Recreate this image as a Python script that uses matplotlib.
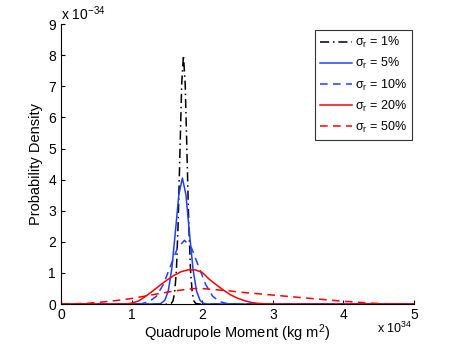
import numpy as np
import matplotlib
matplotlib.use('Agg')
import matplotlib.pyplot as plt

plt.rcParams['font.family'] = ['Liberation Sans', 'DejaVu Sans']
plt.rcParams['mathtext.fontset'] = 'custom'
plt.rcParams['mathtext.rm'] = 'Liberation Sans'
plt.rcParams['mathtext.it'] = 'Liberation Sans:italic'
plt.rcParams['mathtext.default'] = 'regular'

# Densities (x in 1e34 kg m^2, y in 1e-34)
x_1 = [0, 1.50, 1.56, 1.585, 1.61, 1.635, 1.66, 1.685, 1.71, 1.735, 1.76,
       1.785, 1.81, 1.835, 1.86, 1.885, 1.91, 1.97, 5]
y_1 = [0, 0, 0.02, 0.09, 0.35, 1.08, 2.60, 4.85, 7.06, 8.0, 7.06,
       4.85, 2.60, 1.08, 0.35, 0.09, 0.02, 0, 0]

x_5 = [0, 1.37, 1.42, 1.47, 1.52, 1.57, 1.62, 1.67, 1.72, 1.77, 1.82,
       1.87, 1.92, 1.97, 2.02, 2.07, 5]
y_5 = [0, 0.004, 0.025, 0.12, 0.42, 1.13, 2.30, 3.52, 4.05, 3.52, 2.30,
       1.13, 0.42, 0.12, 0.025, 0.004, 0]

x_10 = [0, 1.05, 1.15, 1.25, 1.35, 1.45, 1.55, 1.65, 1.75, 1.85, 1.95,
        2.05, 2.15, 2.25, 2.35, 2.45, 5]
y_10 = [0, 0.003, 0.018, 0.077, 0.25, 0.63, 1.21, 1.80, 2.05, 1.80, 1.21,
        0.63, 0.25, 0.077, 0.018, 0.003, 0]

x_20 = [0, 0.9, 1.0, 1.1, 1.2, 1.3, 1.4, 1.5, 1.6, 1.7, 1.8, 1.9, 2.0,
        2.1, 2.2, 2.3, 2.4, 2.5, 2.6, 2.7, 2.8, 2.9, 3.0, 5]
y_20 = [0, 0.0, 0.03, 0.10, 0.25, 0.42, 0.60, 0.77, 0.92, 1.04, 1.10, 1.10, 1.02,
        0.80, 0.62, 0.45, 0.30, 0.19, 0.11, 0.05, 0.02, 0.01, 0.0, 0]

x_50 = [0, 0.2, 0.4, 0.6, 0.8, 1.0, 1.2, 1.4, 1.6, 1.8, 1.9, 2.0, 2.2, 2.4,
        2.6, 2.8, 3.0, 3.2, 3.4, 3.6, 3.8, 4.0, 4.2, 4.4, 4.6, 4.8, 5.0]
y_50 = [0, 0.01, 0.03, 0.07, 0.12, 0.18, 0.26, 0.34, 0.42, 0.48, 0.50, 0.50,
        0.46, 0.42, 0.37, 0.33, 0.29, 0.25, 0.21, 0.17, 0.13, 0.09, 0.06,
        0.03, 0.01, 0.003, 0.0]

labels = ['1%', '5%', '10%', '20%', '50%']

blue = '#1f3fff'
dash = (0, (5, 3.5))
dashdot = (0, (6, 2.5, 1, 2.5))

fig = plt.figure(figsize=(4.58, 3.44), dpi=100)
ax = fig.add_axes([0.133, 0.116, 0.771, 0.814])

ax.plot(x_1, y_1, color='k', ls=dashdot, lw=1.1, label=r'$\mathrm{\sigma_r}$ = ' + labels[0])
ax.plot(x_5, y_5, color=blue, ls='-', lw=1.1, label=r'$\mathrm{\sigma_r}$ = ' + labels[1])
ax.plot(x_10, y_10, color=blue, ls=dash, lw=1.1, label=r'$\mathrm{\sigma_r}$ = ' + labels[2])
ax.plot(x_20, y_20, color='r', ls='-', lw=1.1, label=r'$\mathrm{\sigma_r}$ = ' + labels[3])
ax.plot(x_50, y_50, color='r', ls=dash, lw=1.1, label=r'$\mathrm{\sigma_r}$ = ' + labels[4])

ax.set_xlim(0, 5)
ax.set_ylim(0, 9)
ax.set_xticks(range(6))
ax.set_yticks(range(10))
ax.tick_params(direction='in', length=3, labelsize=10, width=0.8)
ax.tick_params(axis='x', pad=3)
ax.spines['top'].set_visible(False)
ax.spines['right'].set_visible(False)

ax.set_xlabel('Quadrupole Moment (kg m$^2$)', fontsize=10.5)
ax.xaxis.set_label_coords(0.5, -0.064)
ax.set_ylabel('Probability Density', fontsize=10.5, labelpad=4)
ax.text(0.0, 1.005, 'x 10$^{-34}$', transform=ax.transAxes, ha='left', va='bottom', fontsize=10)
ax.text(0.995, -0.058, 'x 10$^{34}$', transform=ax.transAxes, ha='right', va='top', fontsize=9)

leg = ax.legend(loc='upper right', bbox_to_anchor=(0.994, 0.979), borderaxespad=0,
                fontsize=9, frameon=True, fancybox=False, edgecolor='k',
                handlelength=2.56, labelspacing=0.49, handletextpad=0.24)
leg.get_frame().set_linewidth(0.8)

fig.savefig('out.png', dpi=100)
